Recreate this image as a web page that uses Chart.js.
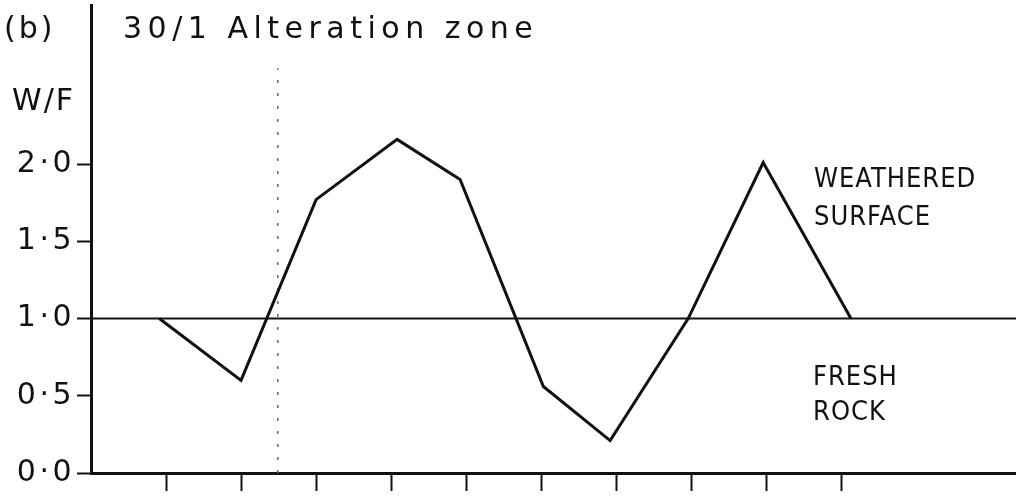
<!DOCTYPE html>
<html lang="en">
<head>
  <meta charset="UTF-8" />
  <title>30/1 Alteration zone</title>
  <script src="https://cdn.jsdelivr.net/npm/chart.js"></script>
  <style>
    body { margin: 0; background: #fff; }
    .wrap { width: 1016px; height: 504px; }
  </style>
</head>
<body>
  <div class="wrap"><canvas id="wf"></canvas></div>

  <script>
    // W/F ratio along the profile (x in tick units)
    const sampleX = [0.91, 2.0, 3.0, 4.08, 4.92, 6.03, 6.92, 7.96, 8.96, 10.13];
    const wfRatio = [1.0, 0.6, 1.77, 2.16, 1.9, 0.56, 0.21, 1.0, 2.01, 1.0];

    const xTicks = [1, 2, 3, 4, 5, 6, 7, 8, 9, 10];
    const yTicks = [0, 0.5, 1.0, 1.5, 2.0];

    const baselineX = [0, 12.33];
    const baselineY = [1.0, 1.0];
    const zoneX = [2.49, 2.49];
    const zoneY = [0, 2.62];

    const FONT = "'DejaVu Sans', sans-serif";
    const FONT_NARROW = "'DejaVu Sans Condensed', 'DejaVu Sans', sans-serif";

    const toPts = (xs, ys) => xs.map((x, i) => ({ x: x, y: ys[i] }));

    // hand-lettered annotations
    const labels = {
      id: 'labels',
      beforeDraw(chart) { chart.ctx.letterSpacing = '3.5px'; },
      afterDraw(chart) {
        const ctx = chart.ctx;
        ctx.save();
        ctx.fillStyle = '#111';
        ctx.textBaseline = 'alphabetic';
        ctx.textAlign = 'left';
        ctx.font = '30px ' + FONT;
        ctx.letterSpacing = '3px';
        ctx.fillText('(b)', 4, 38);
        ctx.letterSpacing = '2px';
        ctx.fillText('W/F', 12, 110);
        ctx.letterSpacing = '5.5px';
        ctx.fillText('30/1 Alteration zone', 123, 38);
        ctx.font = '27px ' + FONT_NARROW;
        ctx.letterSpacing = '1px';
        ctx.fillText('WEATHERED', 814, 187);
        ctx.fillText('SURFACE', 814, 225);
        ctx.fillText('FRESH', 813, 385);
        ctx.fillText('ROCK', 813, 420);
        ctx.restore();
      }
    };

    new Chart(document.getElementById('wf'), {
      type: 'line',
      data: {
        datasets: [
          {
            data: toPts(sampleX, wfRatio),
            borderColor: '#111',
            borderWidth: 3,
            pointRadius: 0,
            tension: 0
          },
          {
            data: toPts(baselineX, baselineY),
            borderColor: '#111',
            borderWidth: 2,
            pointRadius: 0
          },
          {
            data: toPts(zoneX, zoneY),
            borderColor: '#666',
            borderWidth: 1.5,
            borderDash: [3, 10],
            pointRadius: 0
          }
        ]
      },
      options: {
        responsive: true,
        maintainAspectRatio: false,
        animation: false,
        layout: { padding: { top: 5, right: 0, left: 0, bottom: 0 } },
        plugins: {
          legend: { display: false },
          tooltip: { enabled: false }
        },
        scales: {
          x: {
            type: 'linear',
            min: 0,
            max: 12.33,
            afterBuildTicks: s => { s.ticks = xTicks.map(v => ({ value: v })); },
            afterFit: s => { s.height = 31; s.paddingLeft = 0; s.paddingRight = 0; },
            grid: {
              drawOnChartArea: false,
              drawTicks: true,
              tickLength: 18,
              tickColor: '#111',
              tickWidth: 2
            },
            border: { color: '#111', width: 3 },
            ticks: { callback: () => '', padding: 0 }
          },
          y: {
            min: 0,
            max: 3.03,
            afterBuildTicks: s => { s.ticks = yTicks.map(v => ({ value: v })); },
            afterFit: s => { s.width = 91; s.paddingTop = 0; s.paddingBottom = 0; },
            grid: {
              drawOnChartArea: false,
              drawTicks: true,
              tickLength: 14,
              tickColor: '#111',
              tickWidth: 2
            },
            border: { color: '#111', width: 3 },
            ticks: {
              color: '#111',
              padding: 2,
              font: { family: FONT, size: 30 },
              callback: v => v.toFixed(1).replace('.', '·')
            }
          }
        }
      },
      plugins: [labels]
    });
  </script>
</body>
</html>
